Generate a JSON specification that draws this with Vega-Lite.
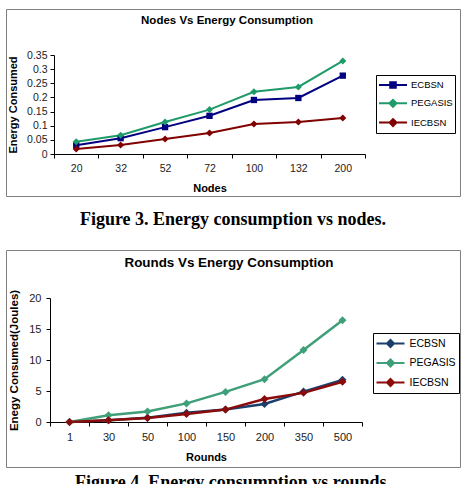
{
  "$schema": "https://vega.github.io/schema/vega-lite/v6.json",
  "background": "white",
  "padding": {"left": 5, "top": 8, "right": 5, "bottom": 0},
  "config": {
    "font": "Liberation Sans",
    "view": {"stroke": "#808080", "strokeWidth": 1},
    "axis": {
      "grid": false,
      "domainColor": "#000",
      "tickColor": "#000",
      "tickSize": 4,
      "labelColor": "#222",
      "labelFont": "Liberation Sans",
      "titleFont": "Liberation Sans",
      "titleColor": "#000",
      "titleFontWeight": "bold"
    },
    "legend": {
      "title": null,
      "orient": "none",
      "strokeColor": "#000",
      "fillColor": "#fff",
      "padding": 2,
      "symbolSize": 196,
      "symbolStrokeWidth": 2,
      "labelColor": "#000",
      "labelFont": "Liberation Sans"
    }
  },
  "datasets": {
    "nodes": [
      {"nodes": "20", "series": "ECBSN", "energy": 0.031},
      {"nodes": "32", "series": "ECBSN", "energy": 0.056},
      {"nodes": "52", "series": "ECBSN", "energy": 0.095},
      {"nodes": "72", "series": "ECBSN", "energy": 0.135},
      {"nodes": "100", "series": "ECBSN", "energy": 0.191},
      {"nodes": "132", "series": "ECBSN", "energy": 0.198},
      {"nodes": "200", "series": "ECBSN", "energy": 0.277},
      {"nodes": "20", "series": "PEGASIS", "energy": 0.043},
      {"nodes": "32", "series": "PEGASIS", "energy": 0.066},
      {"nodes": "52", "series": "PEGASIS", "energy": 0.113},
      {"nodes": "72", "series": "PEGASIS", "energy": 0.157},
      {"nodes": "100", "series": "PEGASIS", "energy": 0.22},
      {"nodes": "132", "series": "PEGASIS", "energy": 0.237},
      {"nodes": "200", "series": "PEGASIS", "energy": 0.329},
      {"nodes": "20", "series": "IECBSN", "energy": 0.018},
      {"nodes": "32", "series": "IECBSN", "energy": 0.032},
      {"nodes": "52", "series": "IECBSN", "energy": 0.053},
      {"nodes": "72", "series": "IECBSN", "energy": 0.074},
      {"nodes": "100", "series": "IECBSN", "energy": 0.106},
      {"nodes": "132", "series": "IECBSN", "energy": 0.113},
      {"nodes": "200", "series": "IECBSN", "energy": 0.127}
    ],
    "rounds": [
      {"rounds": "1", "series": "ECBSN", "energy": 0.0},
      {"rounds": "30", "series": "ECBSN", "energy": 0.3},
      {"rounds": "50", "series": "ECBSN", "energy": 0.7},
      {"rounds": "100", "series": "ECBSN", "energy": 1.5},
      {"rounds": "150", "series": "ECBSN", "energy": 2.0},
      {"rounds": "200", "series": "ECBSN", "energy": 2.9},
      {"rounds": "350", "series": "ECBSN", "energy": 4.9},
      {"rounds": "500", "series": "ECBSN", "energy": 6.8},
      {"rounds": "1", "series": "PEGASIS", "energy": 0.0},
      {"rounds": "30", "series": "PEGASIS", "energy": 1.1},
      {"rounds": "50", "series": "PEGASIS", "energy": 1.7},
      {"rounds": "100", "series": "PEGASIS", "energy": 3.0},
      {"rounds": "150", "series": "PEGASIS", "energy": 4.85},
      {"rounds": "200", "series": "PEGASIS", "energy": 6.9},
      {"rounds": "350", "series": "PEGASIS", "energy": 11.6},
      {"rounds": "500", "series": "PEGASIS", "energy": 16.4},
      {"rounds": "1", "series": "IECBSN", "energy": 0.0},
      {"rounds": "30", "series": "IECBSN", "energy": 0.3},
      {"rounds": "50", "series": "IECBSN", "energy": 0.65},
      {"rounds": "100", "series": "IECBSN", "energy": 1.3},
      {"rounds": "150", "series": "IECBSN", "energy": 2.0},
      {"rounds": "200", "series": "IECBSN", "energy": 3.7},
      {"rounds": "350", "series": "IECBSN", "energy": 4.7},
      {"rounds": "500", "series": "IECBSN", "energy": 6.5}
    ]
  },
  "spacing": 20,
  "resolve": {
    "scale": {"color": "independent", "x": "independent", "y": "independent"},
    "legend": {"color": "independent"}
  },
  "vconcat": [
    {
      "title": {
        "text": "Figure 3. Energy consumption vs nodes.",
        "orient": "bottom",
        "anchor": "middle",
        "font": "Liberation Serif",
        "fontSize": 18,
        "fontWeight": "bold",
        "color": "#000",
        "offset": 14
      },
      "vconcat": [
        {
          "width": 454,
          "height": 187,
          "title": {
            "text": "Nodes Vs Energy Consumption",
            "anchor": "middle",
            "fontSize": 11.5,
            "fontWeight": "bold",
            "color": "#000",
            "offset": -17,
            "dx": -6
          },
          "data": {"name": "nodes"},
          "encoding": {
            "x": {
              "field": "nodes",
              "type": "ordinal",
              "bandPosition": 0.5,
              "scale": {
                "type": "band",
                "domain": ["20", "32", "52", "72", "100", "132", "200"],
                "range": [48, 359],
                "paddingInner": 0,
                "paddingOuter": 0
              },
              "axis": {
                "title": "Nodes",
                "offset": -42,
                "tickBand": "extent",
                "labelAngle": 0,
                "labelFontSize": 10.5,
                "labelPadding": 5,
                "titleFontSize": 11,
                "titlePadding": 9
              }
            },
            "y": {
              "field": "energy",
              "type": "quantitative",
              "scale": {"domain": [0, 0.35], "range": [145, 46], "nice": false},
              "axis": {
                "title": "Energy Consumed",
                "offset": -48,
                "values": [0, 0.05, 0.1, 0.15, 0.2, 0.25, 0.3, 0.35],
                "format": "~g",
                "labelFontSize": 10.5,
                "labelPadding": 3,
                "titleFontSize": 11,
                "titlePadding": 8
              }
            },
            "color": {
              "field": "series",
              "type": "nominal",
              "scale": {
                "domain": ["ECBSN", "PEGASIS", "IECBSN"],
                "range": ["#000080", "#1f9b6a", "#800000"]
              },
              "legend": {
                "legendX": 370,
                "legendY": 66,
                "labelFontSize": 9.5,
                "labelOffset": 17,
                "rowPadding": 3.3,
                "encode": {
                  "symbols": {
                    "update": {
                      "shape": {"signal": "datum.value === 'ECBSN' ? 'M-1,0H3M0.6,-0.4H1.4V0.4H0.6Z' : 'M-1,0H3M0.5,0L1,-0.5L1.5,0L1,0.5Z'"},
                      "fill": {"signal": "datum.value === 'ECBSN' ? '#000080' : datum.value === 'PEGASIS' ? '#1f9b6a' : '#800000'"},
                      "opacity": {"value": 1}
                    }
                  }
                }
              }
            }
          },
          "layer": [
            {"mark": {"type": "line", "strokeWidth": 2}},
            {
              "transform": [{"filter": "datum.series === 'ECBSN'"}],
              "mark": {"type": "point", "filled": true, "opacity": 1, "shape": "square"},
              "encoding": {"size": {"value": 40}}
            },
            {
              "transform": [{"filter": "datum.series !== 'ECBSN'"}],
              "mark": {"type": "point", "filled": true, "opacity": 1, "shape": "diamond"},
              "encoding": {"size": {"value": 50}}
            }
          ]
        }
      ]
    },
    {
      "title": {
        "text": "Figure 4. Energy consumption vs rounds.",
        "orient": "bottom",
        "anchor": "middle",
        "font": "Liberation Serif",
        "fontSize": 18,
        "fontWeight": "bold",
        "color": "#000",
        "offset": 6
      },
      "vconcat": [
        {
          "width": 454,
          "height": 217,
          "title": {
            "text": "Rounds Vs Energy Consumption",
            "anchor": "middle",
            "fontSize": 13.4,
            "fontWeight": "bold",
            "color": "#000",
            "offset": -19,
            "dx": -4
          },
          "data": {"name": "rounds"},
          "encoding": {
            "x": {
              "field": "rounds",
              "type": "ordinal",
              "bandPosition": 0.5,
              "scale": {
                "type": "band",
                "domain": ["1", "30", "50", "100", "150", "200", "350", "500"],
                "range": [44, 356],
                "paddingInner": 0,
                "paddingOuter": 0
              },
              "axis": {
                "title": "Rounds",
                "offset": -45,
                "tickBand": "extent",
                "labelAngle": 0,
                "labelFontSize": 11,
                "labelPadding": 5,
                "titleFontSize": 11,
                "titlePadding": 9
              }
            },
            "y": {
              "field": "energy",
              "type": "quantitative",
              "scale": {"domain": [0, 20], "range": [172, 48], "nice": false},
              "axis": {
                "title": "Enegy Consumed(Joules)",
                "offset": -44,
                "values": [0, 5, 10, 15, 20],
                "labelFontSize": 11,
                "labelPadding": 5,
                "titleFontSize": 11.5,
                "titlePadding": 9
              }
            },
            "color": {
              "field": "series",
              "type": "nominal",
              "scale": {
                "domain": ["ECBSN", "PEGASIS", "IECBSN"],
                "range": ["#1b3e6c", "#3f9f78", "#8b0a0a"]
              },
              "legend": {
                "legendX": 367,
                "legendY": 83,
                "labelFontSize": 10.5,
                "labelOffset": 18,
                "rowPadding": 3.5,
                "padding": 2.5,
                "encode": {
                  "symbols": {
                    "update": {
                      "shape": {"signal": "'M-1,0H3M0.5,0L1,-0.5L1.5,0L1,0.5Z'"},
                      "fill": {"signal": "datum.value === 'ECBSN' ? '#1b3e6c' : datum.value === 'PEGASIS' ? '#3f9f78' : '#8b0a0a'"},
                      "opacity": {"value": 1}
                    }
                  }
                }
              }
            }
          },
          "layer": [
            {"mark": {"type": "line", "strokeWidth": 2.5}},
            {
              "mark": {"type": "point", "filled": true, "opacity": 1, "shape": "diamond"},
              "encoding": {"size": {"value": 64}}
            }
          ]
        }
      ]
    }
  ]
}
